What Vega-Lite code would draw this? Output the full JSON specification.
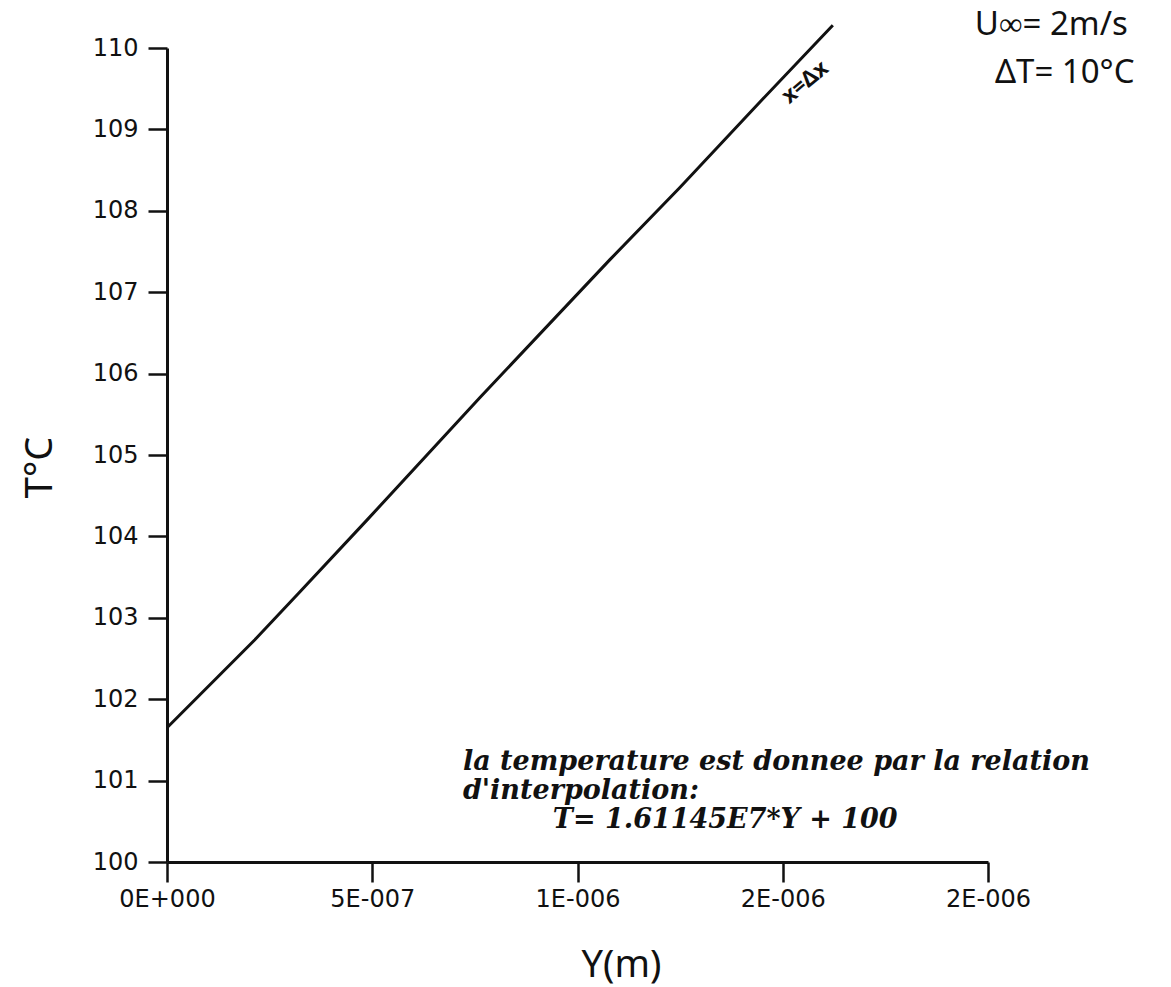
{
  "$schema": "https://vega.github.io/schema/vega-lite/v6.json",
  "width": 821,
  "height": 814,
  "autosize": {"type": "none"},
  "padding": {"left": 167, "top": 48, "right": 183, "bottom": 125},
  "background": "white",
  "config": {
    "view": {"stroke": null},
    "axis": {
      "domainColor": "#111",
      "domainWidth": 3,
      "tickColor": "#111",
      "tickWidth": 2.5,
      "tickSize": 19,
      "labelColor": "#111",
      "labelFont": "DejaVu Sans",
      "labelFontSize": 24,
      "titleColor": "#111",
      "titleFont": "Noto Sans",
      "titleFontWeight": "normal",
      "grid": false
    }
  },
  "datasets": {
    "profile": [
      {"Y": 0, "T": 101.65},
      {"Y": 2.14e-7, "T": 102.73},
      {"Y": 3.24e-7, "T": 103.32},
      {"Y": 4.87e-7, "T": 104.20},
      {"Y": 7.63e-7, "T": 105.71},
      {"Y": 1.079e-6, "T": 107.40},
      {"Y": 1.250e-6, "T": 108.29},
      {"Y": 1.449e-6, "T": 109.36},
      {"Y": 1.622e-6, "T": 110.28}
    ],
    "relation": [
      {"Y": 7.21e-7, "T": 101.23, "text": "la temperature est donnee par la relation"},
      {"Y": 7.21e-7, "T": 100.87, "text": "d'interpolation:"},
      {"Y": 9.40e-7, "T": 100.51, "text": "T= 1.61145E7*Y + 100"}
    ],
    "conditions": [
      {"Y": 1.968e-6, "T": 110.28, "text": "U∞= 2m/s"},
      {"Y": 2.017e-6, "T": 109.69, "text": "ΔT= 10°C"}
    ],
    "curveTag": [
      {"Y": 1.554e-6, "T": 109.58, "text": "x=Δx"}
    ]
  },
  "layer": [
    {
      "data": {"name": "profile"},
      "mark": {"type": "line", "color": "#111", "strokeWidth": 3, "clip": false},
      "encoding": {
        "x": {
          "field": "Y",
          "type": "quantitative",
          "scale": {"domain": [0, 2e-6], "nice": false, "zero": false},
          "axis": {
            "values": [0, 5e-7, 1e-6, 1.5e-6, 2e-6],
            "labelExpr": "datum.value == 0 ? '0E+000' : datum.value < 7e-7 ? '5E-007' : datum.value < 1.2e-6 ? '1E-006' : '2E-006'",
            "tickSize": 20,
            "labelPadding": 5,
            "labelFlush": false,
            "labelOverlap": false,
            "title": "Y(m)",
            "titleFontSize": 38,
            "titleX": 454,
            "titleY": 103,
            "titleBaseline": "middle",
            "titleAlign": "center"
          }
        },
        "y": {
          "field": "T",
          "type": "quantitative",
          "scale": {"domain": [100, 110], "nice": false, "zero": false},
          "axis": {
            "values": [100, 101, 102, 103, 104, 105, 106, 107, 108, 109, 110],
            "format": "d",
            "labelPadding": 10,
            "labelFlush": false,
            "labelOverlap": false,
            "title": "T°C",
            "titleFontSize": 38,
            "titleAngle": -90,
            "titleX": -127,
            "titleY": 419,
            "titleBaseline": "middle",
            "titleAlign": "center"
          }
        }
      }
    },
    {
      "data": {"name": "relation"},
      "mark": {
        "type": "text",
        "font": "DejaVu Serif",
        "fontStyle": "italic",
        "fontWeight": "bold",
        "fontSize": 27,
        "align": "left",
        "baseline": "middle",
        "color": "#111",
        "clip": false
      },
      "encoding": {
        "x": {"field": "Y", "type": "quantitative", "scale": {"domain": [0, 2e-6], "nice": false, "zero": false}},
        "y": {"field": "T", "type": "quantitative", "scale": {"domain": [100, 110], "nice": false, "zero": false}},
        "text": {"field": "text"}
      }
    },
    {
      "data": {"name": "conditions"},
      "mark": {
        "type": "text",
        "font": "Noto Sans",
        "fontSize": 33,
        "align": "left",
        "baseline": "middle",
        "color": "#111",
        "clip": false
      },
      "encoding": {
        "x": {"field": "Y", "type": "quantitative", "scale": {"domain": [0, 2e-6], "nice": false, "zero": false}},
        "y": {"field": "T", "type": "quantitative", "scale": {"domain": [100, 110], "nice": false, "zero": false}},
        "text": {"field": "text"}
      }
    },
    {
      "data": {"name": "curveTag"},
      "mark": {
        "type": "text",
        "font": "Noto Sans",
        "fontSize": 22,
        "fontWeight": "bold",
        "angle": -40,
        "align": "center",
        "baseline": "middle",
        "color": "#111",
        "clip": false
      },
      "encoding": {
        "x": {"field": "Y", "type": "quantitative", "scale": {"domain": [0, 2e-6], "nice": false, "zero": false}},
        "y": {"field": "T", "type": "quantitative", "scale": {"domain": [100, 110], "nice": false, "zero": false}},
        "text": {"field": "text"}
      }
    }
  ]
}
